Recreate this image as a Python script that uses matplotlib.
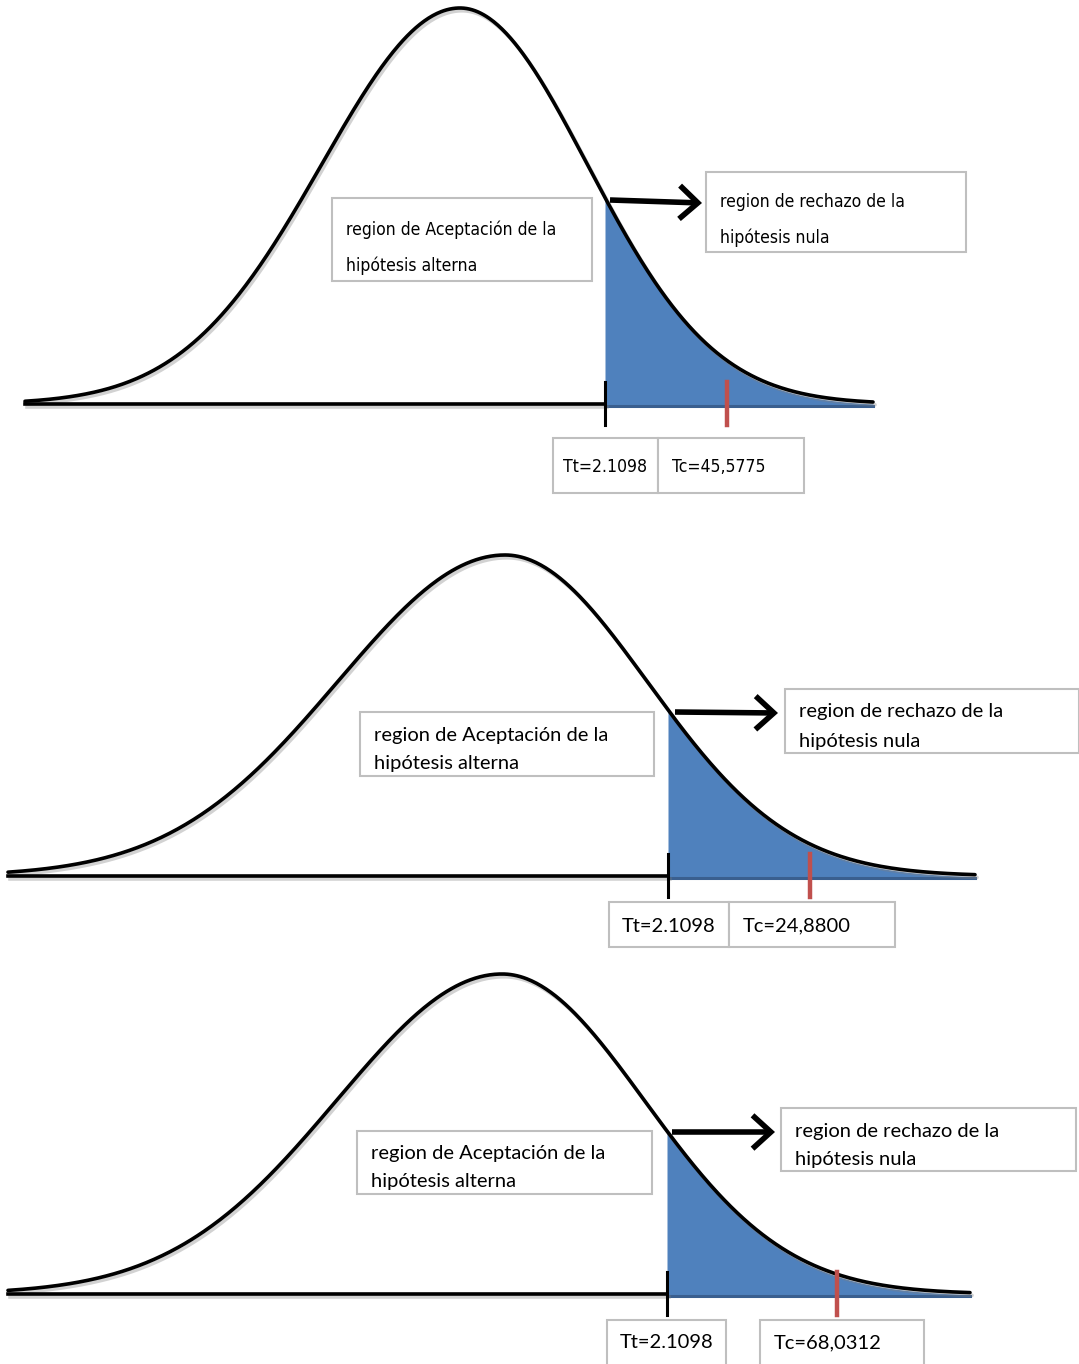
import numpy as np
import matplotlib.pyplot as plt
import matplotlib.patheffects as pe
from matplotlib.patches import Rectangle, FancyArrowPatch

# texts / values of the three hypothesis tests
tt_labels = ["Tt=2.1098", "Tt=2.1098", "Tt=2.1098"]
tc_labels = ["Tc=45,5775", "Tc=24,8800", "Tc=68,0312"]
accept_text = ["region de Aceptación de la", "hipótesis alterna"]
reject_text = ["region de rechazo de la", "hipótesis nula"]

# panel geometry in pixels (figure is 1079 x 1364)
panels = [
    dict(mu=460, top=8, base=404, x0=25, x1=873, sl=138, sr=127, cut=605, red=727,
         acc=(332, 198, 260, 83), acc_y=(32, 68), rej=(706, 172, 260, 80), rej_y=(30, 66),
         arr=(610, 200, 702, 203), tt=(553, 438, 105, 55), tc=(658, 438, 146, 55), val_y=29,
         fs=12.6, narrow=True),
    dict(mu=505, top=555, base=876, x0=8, x1=975, sl=167, sr=142, cut=668, red=810,
         acc=(360, 712, 294, 64), acc_y=(23, 52), rej=(785, 689, 294, 64), rej_y=(23, 52),
         arr=(675, 712, 778, 713), tt=(609, 902, 120, 45), tc=(729, 902, 166, 45), val_y=24,
         fs=14.5, narrow=False),
    dict(mu=502, top=974, base=1294, x0=8, x1=970, sl=165, sr=142, cut=667, red=837,
         acc=(357, 1131, 295, 63), acc_y=(22, 51), rej=(781, 1108, 295, 63), rej_y=(23, 51),
         arr=(672, 1132, 775, 1132), tt=(607, 1320, 119, 50), tc=(760, 1320, 164, 50), val_y=23,
         fs=14.5, narrow=False),
]

blue = "#4F81BD"
dark_blue = "#3A5F8F"
red = "#C0504D"
box_edge = "#BFBFBF"
shadow = [pe.SimpleLineShadow(offset=(1.5, -2), shadow_color="gray", alpha=0.35), pe.Normal()]


def curve(x, p):
    h = p["base"] - p["top"]
    s = np.where(x < p["mu"], p["sl"], p["sr"])
    return p["base"] - h * np.exp(-0.5 * ((x - p["mu"]) / s) ** 2)


def box(ax, rect, lines, offs, fs, font, pad=14):
    x, y, w, hgt = rect
    ax.add_patch(Rectangle((x, y), w, hgt, facecolor="white", edgecolor=box_edge, lw=1.5, zorder=4))
    for t, dy in zip(lines, offs):
        ax.text(x + pad, y + dy, t, fontsize=fs, ha="left", va="center", zorder=5, **font)


fig = plt.figure(figsize=(10.79, 13.64), dpi=100)
ax = fig.add_axes([0, 0, 1, 1])
ax.set_xlim(0, 1079)
ax.set_ylim(1364, 0)
ax.axis("off")

for i, p in enumerate(panels):
    if p["narrow"]:
        font = dict(family="DejaVu Sans", fontstretch="condensed")
    else:
        font = dict(family=["Lato", "DejaVu Sans"])
    x = np.linspace(p["x0"], p["x1"], 600)
    y = curve(x, p)

    # shaded rejection tail
    xs = np.linspace(p["cut"], p["x1"], 300)
    ax.fill_between(xs, curve(xs, p) + 2, p["base"] + 2, color=blue, zorder=2, lw=0)
    ax.plot([p["cut"], p["x1"]], [p["base"] + 2, p["base"] + 2], color=dark_blue, lw=2.2, zorder=2)

    # curve and baseline
    ax.plot(x, y, color="black", lw=2.6, zorder=3, solid_capstyle="round", path_effects=shadow)
    ax.plot([p["x0"], p["cut"]], [p["base"], p["base"]], color="black", lw=2.6, zorder=3,
            path_effects=shadow)

    # Tt and Tc ticks
    ax.plot([p["cut"], p["cut"]], [p["base"] - 22, p["base"] + 21], color="black", lw=2.2, zorder=3)
    ax.plot([p["red"], p["red"]], [p["base"] - 22, p["base"] + 21], color=red, lw=3.2, zorder=3)

    # arrow
    x0a, y0a, x1a, y1a = p["arr"]
    ax.add_patch(FancyArrowPatch((x0a, y0a), (x1a, y1a), arrowstyle="->,head_length=0.55,head_width=0.5",
                                 mutation_scale=24, color="black", lw=4, zorder=5,
                                 shrinkA=0, shrinkB=0, joinstyle="miter", capstyle="butt"))

    box(ax, p["acc"], accept_text, p["acc_y"], p["fs"], font)
    box(ax, p["rej"], reject_text, p["rej_y"], p["fs"], font)

    # value boxes
    for rect, lab, center in [(p["tt"], tt_labels[i], True), (p["tc"], tc_labels[i], False)]:
        bx, by, bw, bh = rect
        ax.add_patch(Rectangle((bx, by), bw, bh, facecolor="white", edgecolor=box_edge, lw=1.5, zorder=4))
        if center:
            ax.text(bx + bw / 2, by + p["val_y"], lab, fontsize=p["fs"], ha="center", va="center",
                    zorder=5, **font)
        else:
            ax.text(bx + 14, by + p["val_y"], lab, fontsize=p["fs"], ha="left", va="center",
                    zorder=5, **font)

fig.savefig("out.png", dpi=100)
